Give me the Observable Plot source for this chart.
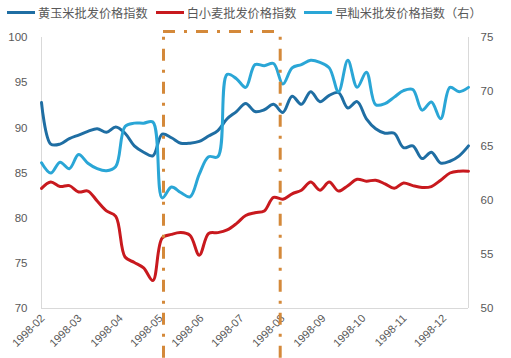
<!DOCTYPE html>
<html><head><meta charset="utf-8">
<script src="https://cdn.jsdelivr.net/npm/d3@7"></script>
<script src="https://cdn.jsdelivr.net/npm/@observablehq/plot@0.6"></script>
<style>
body{margin:0;background:#fff;width:511px;height:358px;overflow:hidden;}
#legend{height:25px;display:flex;align-items:center;padding-left:7px;font-family:"Noto Sans CJK SC",sans-serif;font-size:12.2px;color:#595959;}
.item{display:flex;align-items:center;margin-right:8px;white-space:nowrap;}
.sw{width:28px;height:3px;margin-right:3px;}
</style></head>
<body>
<div id="legend"></div>
<div id="chart"></div>
<script>
const dates = ["1998-01-31","1998-02-07","1998-02-14","1998-02-21","1998-02-28","1998-03-07","1998-03-14","1998-03-21","1998-03-28","1998-04-04","1998-04-11","1998-04-18","1998-04-25","1998-05-02","1998-05-09","1998-05-16","1998-05-23","1998-05-30","1998-06-06","1998-06-13","1998-06-20","1998-06-27","1998-07-04","1998-07-11","1998-07-18","1998-07-25","1998-08-01","1998-08-08","1998-08-15","1998-08-22","1998-08-29","1998-09-05","1998-09-12","1998-09-19","1998-09-26","1998-10-03","1998-10-10","1998-10-17","1998-10-24","1998-10-31","1998-11-07","1998-11-14","1998-11-21","1998-11-28","1998-12-05","1998-12-12","1998-12-19"];
const corn = [92.8,88.2,88.2,88.8,89.2,89.6,89.9,89.5,90.1,89.4,88.0,87.3,86.9,89.3,88.9,88.3,88.3,88.5,89.1,89.7,91.0,91.8,92.7,91.8,92.0,92.6,91.7,93.5,92.6,94.0,92.9,93.6,93.9,92.2,92.9,91.0,89.9,89.4,89.4,87.8,88.0,86.6,87.3,86.1,86.3,86.9,88.0];
const wheat = [83.3,84.0,83.5,83.6,82.9,83.0,81.9,80.8,80.2,75.7,75.1,74.5,73.1,77.8,78.2,78.4,78.1,75.9,78.3,78.4,78.7,79.4,80.3,80.6,80.8,82.3,82.1,82.7,83.1,84.0,83.1,84.0,83.0,83.6,84.3,84.1,84.2,83.8,83.3,83.9,83.6,83.4,83.5,84.2,85.0,85.2,85.2];
const rice = [63.45,62.5,63.5,62.9,64.2,63.4,62.9,62.7,63.1,66.8,67.1,67.1,67.2,60.2,61.2,60.7,60.3,62.4,64.0,64.0,71.6,71.2,70.4,72.5,72.4,72.6,70.7,72.2,72.5,72.9,72.7,72.2,70.0,72.9,70.4,71.8,68.8,68.9,69.5,70.1,70.2,68.3,69.05,67.5,70.4,70.0,70.4];
const seriesNames = ["黄玉米批发价格指数","白小麦批发价格指数","早籼米批发价格指数（右）"];
const colors = ["#1f6ea3","#c8191e","#2aa6d6"];
const monthTicks = ["1998-02","1998-03","1998-04","1998-05","1998-06","1998-07","1998-08","1998-09","1998-10","1998-11","1998-12"];
const leftTicks = [70,75,80,85,90,95,100];
const rightTicks = [50,55,60,65,70,75];
const markDates = ["1998-05-03","1998-07-30"];
const markTop = 100.66, markBottom = 64.5;

const toLeft = v => 70 + (v - 50) * 1.2;
const parse = s => new Date(s + "T00:00:00Z");
const rows = [];
dates.forEach((d,i)=>{
  rows.push({date:parse(d), v:corn[i], s:seriesNames[0]});
  rows.push({date:parse(d), v:wheat[i], s:seriesNames[1]});
  rows.push({date:parse(d), v:toLeft(rice[i]), s:seriesNames[2]});
});

const leg = document.getElementById("legend");
seriesNames.forEach((n,i)=>{
  const it = document.createElement("div"); it.className="item";
  const sw = document.createElement("div"); sw.className="sw"; sw.style.background=colors[i];
  const t = document.createElement("span"); t.textContent=n;
  it.appendChild(sw); it.appendChild(t); leg.appendChild(it);
});

const xDomain = [parse(dates[0]), parse(dates[dates.length-1])];
const dash = "12,9,3,9";
const chart = Plot.plot({
  width: 511, height: 333,
  marginTop: 12, marginBottom: 50, marginLeft: 41, marginRight: 43,
  style: {fontFamily: "'Liberation Sans', Arial, sans-serif", fontSize: "11px", color: "#595959", background: "#fff"},
  x: {type: "utc", domain: xDomain},
  y: {domain: [70, 100]},
  color: {domain: seriesNames, range: colors},
  marks: [
    Plot.ruleX([xDomain[0], xDomain[1]], {x: d=>d, y1: 70, y2: 100, stroke: "#d9d9d9", strokeWidth: 1}),
    Plot.ruleY([70], {stroke: "#d9d9d9", strokeWidth: 1}),
    Plot.axisY({ticks: leftTicks, tickSize: 0, tickPadding: 14, label: null, fontSize: 11.5}),
    Plot.axisY({anchor: "right", ticks: rightTicks.map(toLeft), tickFormat: d => String(Math.round((d-70)/1.2+50)), tickSize: 0, tickPadding: 12, label: null, fontSize: 11.5}),
    Plot.axisX({ticks: monthTicks.map(m => parse(m + "-01")), tickFormat: d3.utcFormat("%Y-%m"), tickRotate: -45, tickSize: 0, tickPadding: 8, label: null}),
    Plot.line(rows, {x: "date", y: "v", z: "s", stroke: "s", strokeWidth: 3, curve: "catmull-rom"}),
    Plot.ruleX(markDates.map(parse), {x: d=>d, y1: markBottom, y2: markTop, stroke: "#d4893a", strokeWidth: 3, strokeDasharray: dash}),
    Plot.ruleY([markTop], {x1: parse(markDates[0]), x2: parse(markDates[1]), stroke: "#d4893a", strokeWidth: 3, strokeDasharray: dash})
  ]
});
document.getElementById("chart").appendChild(chart);
</script>
</body></html>
